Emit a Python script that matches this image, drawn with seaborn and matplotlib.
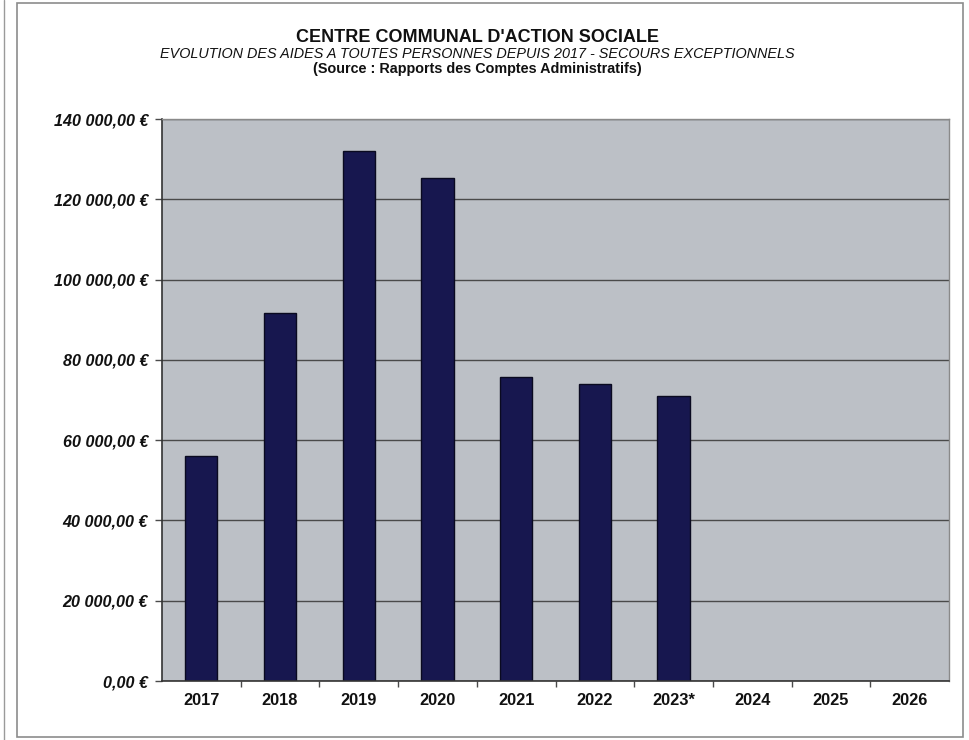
import matplotlib
matplotlib.use("Agg")
import matplotlib.pyplot as plt
import matplotlib.patches as mpatches
import seaborn as sns
from matplotlib.ticker import FuncFormatter, FixedLocator

# Secours exceptionnels par année (en euros)
years_all = ["2017", "2018", "2019", "2020", "2021", "2022", "2023*", "2024", "2025", "2026"]
years_data = ["2017", "2018", "2019", "2020", "2021", "2022", "2023*"]
amounts = [56050, 91650, 132000, 125300, 75700, 74000, 71000]
y_ticks = [0, 20000, 40000, 60000, 80000, 100000, 120000, 140000]

title = "CENTRE COMMUNAL D'ACTION SOCIALE"
subtitle = "EVOLUTION DES AIDES A TOUTES PERSONNES DEPUIS 2017 - SECOURS EXCEPTIONNELS"
source = "(Source : Rapports des Comptes Administratifs)"

sns.set_style("white")
plt.rcParams["font.family"] = ["Liberation Sans", "DejaVu Sans"]

fig = plt.figure(figsize=(9.7, 7.4), dpi=100)
ax = fig.add_axes([162 / 970, 1 - 681 / 740, (949 - 162) / 970, (681 - 119) / 740])

sns.barplot(x=years_data, y=amounts, order=years_all, color="#17174f",
            width=0.41, edgecolor="#0a0a20", linewidth=1.0, saturation=1, ax=ax)

ax.set_facecolor("#bcc0c6")
ax.set_ylim(0, 140000)
ax.set_xlim(-0.5, len(years_all) - 0.5)
ax.yaxis.set_major_locator(FixedLocator(y_ticks))


def euro(v, _pos):
    s = f"{int(round(v)):,}".replace(",", " ")
    return f"{s},00 €"


ax.yaxis.set_major_formatter(FuncFormatter(euro))
ax.grid(axis="y", color="#4a4a4a", linewidth=1.0)
ax.set_axisbelow(True)

for lab in ax.get_yticklabels():
    lab.set_fontweight("bold")
    lab.set_fontstyle("italic")
    lab.set_fontsize(11.6)
    lab.set_color("#111111")
for lab in ax.get_xticklabels():
    lab.set_fontweight("bold")
    lab.set_fontsize(11.8)
    lab.set_color("#111111")

ax.tick_params(axis="y", left=True, length=5, width=1, color="#4a4a4a", pad=5)
ax.tick_params(axis="x", bottom=False, length=0, pad=8.5)
# small separators between categories below the axis
ax.set_xticks([i + 0.5 for i in range(len(years_all) - 1)], minor=True)
ax.tick_params(axis="x", which="minor", bottom=True, length=4, width=1, color="#4a4a4a")
ax.set_xlabel("")
ax.set_ylabel("")

for side in ["left", "bottom"]:
    ax.spines[side].set_color("#333333")
    ax.spines[side].set_linewidth(1.2)
for side in ["top", "right"]:
    ax.spines[side].set_color("#8a8a8a")
    ax.spines[side].set_linewidth(1.0)
    ax.spines[side].set_visible(True)

fig.text(0.4925, 1 - 37 / 740, title, ha="center", va="center",
         fontsize=13, fontweight="bold", color="#111111")
fig.text(0.4925, 1 - 54 / 740, subtitle, ha="center", va="center",
         fontsize=10.4, fontstyle="italic", color="#111111")
fig.text(0.4925, 1 - 69 / 740, source, ha="center", va="center",
         fontsize=10.4, fontweight="bold", color="#111111")

# page frame
fig.patches.append(mpatches.Rectangle((17 / 970, 3 / 740), (963 - 17) / 970, (737 - 3) / 740,
                                      transform=fig.transFigure, fill=False,
                                      edgecolor="#8c8c8c", linewidth=1.2))
fig.lines.append(plt.Line2D([4 / 970, 4 / 970], [0, 1], transform=fig.transFigure,
                            color="#9a9a9a", linewidth=1.0))

fig.savefig("out.png", dpi=100)
